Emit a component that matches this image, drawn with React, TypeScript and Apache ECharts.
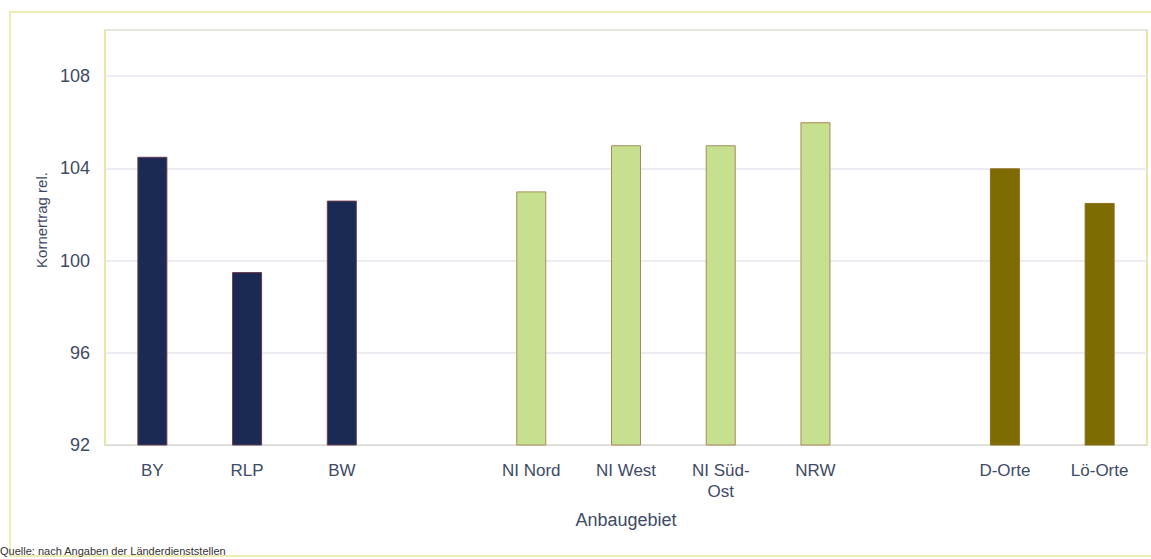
import React, { useEffect, useRef } from "react";
import * as echarts from "echarts";

const categories = ["BY", "RLP", "BW", "", "NI Nord", "NI West", "NI Süd-\nOst", "NRW", "", "D-Orte", "Lö-Orte"];
const values: (number | null)[] = [104.5, 99.5, 102.6, null, 103, 105, 105, 106, null, 104, 102.5];
const groups = ["navy", "navy", "navy", "", "green", "green", "green", "green", "", "olive", "olive"];
const yTicks = { min: 92, max: 110, interval: 4 };
const yName = "Kornertrag rel.";
const xName = "Anbaugebiet";
const sourceText = "Quelle: nach Angaben der Länderdienststellen";

const palette: Record<string, { color: string; border: string }> = {
  navy: { color: "#1b2a54", border: "#6a3a50" },
  green: { color: "#c6e08f", border: "#a88a58" },
  olive: { color: "#7c6c02", border: "#8e6c1c" },
};

export default function App() {
  const ref = useRef<HTMLDivElement>(null);
  useEffect(() => {
    document.body.style.margin = "0";
    const chart = echarts.init(ref.current!, null, { renderer: "svg" });
    const font = "Liberation Sans, Arial, sans-serif";
    const textColor = "#3e4a66";
    chart.setOption({
      animation: false,
      backgroundColor: "#ffffff",
      grid: { left: 105, right: 4, top: 30, bottom: 114, show: true, borderColor: "#ece6a6", borderWidth: 2 },
      xAxis: {
        type: "category",
        data: categories,
        name: xName,
        nameLocation: "middle",
        nameGap: 66,
        nameTextStyle: { color: textColor, fontSize: 18, fontFamily: font },
        axisLine: { lineStyle: { color: "#d8d8d8" } },
        axisTick: { show: false },
        axisLabel: { color: textColor, fontSize: 17, fontFamily: font, margin: 15, lineHeight: 21, interval: 0 },
      },
      yAxis: {
        type: "value",
        min: yTicks.min,
        max: yTicks.max,
        interval: yTicks.interval,
        axisLine: { show: false },
        axisTick: { show: false },
        axisLabel: {
          color: textColor,
          fontSize: 18,
          fontFamily: font,
          margin: 15,
          showMaxLabel: false,
        },
        splitLine: { lineStyle: { color: "#e6e6ee", width: 1.5 } },
      },
      series: [
        {
          type: "bar",
          barWidth: 30,
          data: values.map((v, i) =>
            v === null
              ? "-"
              : {
                  value: v,
                  itemStyle: {
                    color: palette[groups[i]].color,
                    borderColor: palette[groups[i]].border,
                    borderWidth: 1,
                  },
                }
          ),
        },
      ],
      graphic: [
        {
          type: "rect",
          shape: { x: 10, y: 12, width: 1160, height: 544 },
          style: { fill: "none", stroke: "#f0eab4", lineWidth: 2 },
          silent: true,
          z: -1,
        },
        {
          type: "text",
          x: 41,
          y: 220,
          rotation: Math.PI / 2,
          style: {
            text: yName,
            fill: textColor,
            fontSize: 15,
            fontFamily: font,
            align: "center",
            verticalAlign: "middle",
          },
        },
        {
          type: "text",
          left: 0,
          top: 545,
          style: { text: sourceText, fill: "#333333", fontSize: 11, fontFamily: font },
        },
      ],
    });
    return () => chart.dispose();
  }, []);
  return <div ref={ref} style={{ width: 1151, height: 559 }} />;
}
